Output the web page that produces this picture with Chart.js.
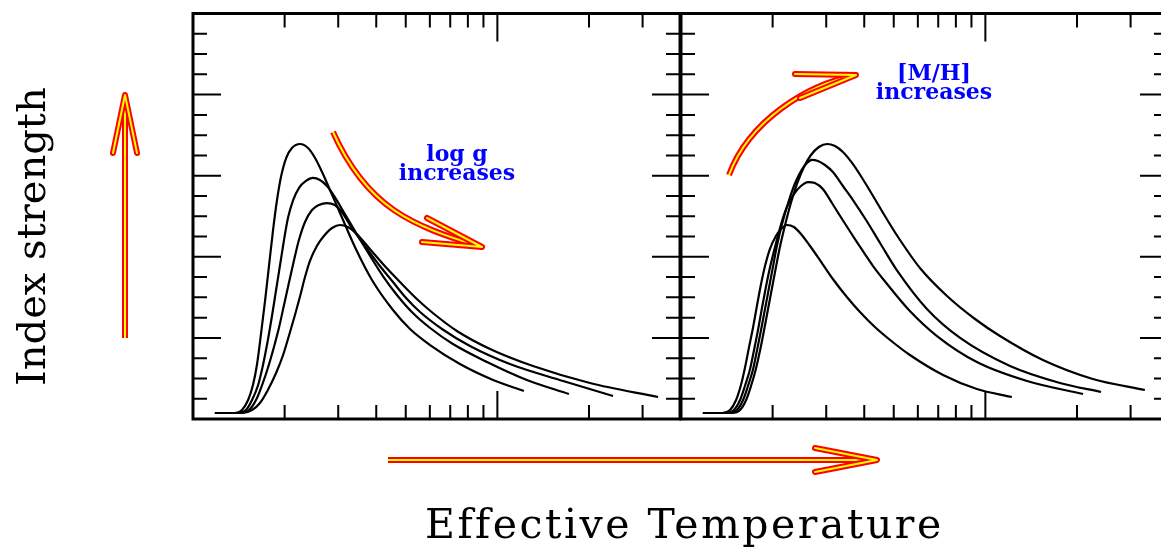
<!DOCTYPE html>
<html><head><meta charset="utf-8">
<script src="https://cdn.jsdelivr.net/npm/chart.js@4/dist/chart.umd.min.js"></script>
<style>
html,body{margin:0;padding:0;background:#fff;overflow:hidden;width:1161px;height:547px}
canvas{position:absolute;left:0;top:0}
</style></head>
<body>
<canvas id="c1" width="1170" height="547"></canvas>
<canvas id="c2" width="1170" height="547"></canvas>
<script>
// ---- Data: log10(Teff) and index strength (arbitrary units) ----
// Left panel: log g sequence
const leftA_logT = [3.072,3.138,3.161,3.181,3.197,3.210,3.223,3.237,3.250,3.263,3.276,3.289,3.306,3.325,3.352,3.378,3.401,3.424,3.450,3.483,3.532,3.588,3.657,3.713,3.779,3.877,3.986,4.087];
const leftA_Y    = [0.074,0.074,0.111,0.234,0.419,0.666,1.036,1.467,1.899,2.330,2.700,2.984,3.218,3.341,3.391,3.341,3.218,3.046,2.824,2.540,2.121,1.714,1.344,1.110,0.912,0.678,0.481,0.345];
const leftB_logT = [3.072,3.148,3.174,3.194,3.214,3.230,3.246,3.260,3.273,3.286,3.299,3.312,3.329,3.348,3.371,3.394,3.417,3.440,3.466,3.499,3.542,3.588,3.624,3.670,3.719,3.779,3.854,3.966,4.097,4.235];
const leftB_Y    = [0.074,0.074,0.111,0.234,0.419,0.666,0.974,1.282,1.591,1.899,2.207,2.478,2.700,2.848,2.935,2.972,2.947,2.873,2.737,2.528,2.256,1.973,1.763,1.529,1.319,1.122,0.925,0.703,0.481,0.308];
const leftC_logT = [3.072,3.154,3.184,3.207,3.227,3.246,3.266,3.283,3.299,3.315,3.332,3.348,3.368,3.391,3.414,3.440,3.466,3.489,3.522,3.572,3.614,3.657,3.700,3.746,3.818,3.910,4.041,4.216,4.380];
const leftC_Y    = [0.074,0.074,0.111,0.234,0.419,0.629,0.888,1.134,1.406,1.677,1.960,2.207,2.429,2.577,2.639,2.663,2.639,2.552,2.355,2.096,1.886,1.689,1.492,1.319,1.110,0.900,0.678,0.469,0.284];
const leftD_logT = [3.072,3.161,3.194,3.220,3.246,3.273,3.296,3.315,3.335,3.352,3.368,3.384,3.407,3.430,3.457,3.483,3.509,3.535,3.581,3.624,3.680,3.739,3.788,3.867,3.976,4.117,4.304,4.528];
const leftD_Y    = [0.074,0.074,0.111,0.197,0.358,0.567,0.789,1.023,1.282,1.517,1.751,1.948,2.133,2.256,2.355,2.392,2.367,2.293,2.096,1.911,1.689,1.467,1.307,1.085,0.863,0.653,0.444,0.271];
// Right panel: [M/H] sequence
const right1_logT = [3.072,3.135,3.161,3.181,3.197,3.210,3.223,3.237,3.250,3.263,3.276,3.292,3.312,3.329,3.348,3.371,3.394,3.424,3.463,3.499,3.545,3.588,3.637,3.687,3.752,3.861,3.972,4.087];
const right1_Y    = [0.074,0.074,0.111,0.234,0.419,0.629,0.875,1.134,1.406,1.665,1.886,2.096,2.256,2.343,2.392,2.367,2.281,2.133,1.923,1.726,1.504,1.319,1.134,0.974,0.789,0.543,0.370,0.271];
const right2_logT = [3.072,3.148,3.174,3.194,3.210,3.227,3.240,3.253,3.266,3.279,3.292,3.309,3.329,3.348,3.371,3.394,3.417,3.440,3.466,3.496,3.529,3.578,3.631,3.677,3.752,3.841,3.972,4.137,4.321];
const right2_Y    = [0.074,0.074,0.111,0.234,0.407,0.617,0.851,1.097,1.369,1.628,1.862,2.121,2.404,2.614,2.774,2.873,2.922,2.910,2.836,2.663,2.466,2.182,1.886,1.665,1.332,1.023,0.703,0.469,0.308];
const right3_logT = [3.072,3.158,3.184,3.204,3.220,3.237,3.250,3.263,3.276,3.289,3.302,3.315,3.332,3.352,3.375,3.398,3.414,3.430,3.450,3.473,3.499,3.532,3.565,3.608,3.654,3.713,3.808,3.917,4.081,4.245,4.380];
const right3_Y    = [0.074,0.074,0.111,0.234,0.407,0.617,0.851,1.097,1.356,1.615,1.874,2.133,2.404,2.663,2.910,3.083,3.157,3.194,3.181,3.132,3.046,2.873,2.700,2.454,2.170,1.813,1.356,0.999,0.653,0.444,0.333];
const right4_logT = [3.072,3.168,3.194,3.214,3.230,3.246,3.260,3.273,3.286,3.299,3.312,3.325,3.342,3.361,3.381,3.404,3.427,3.453,3.480,3.506,3.532,3.562,3.595,3.631,3.670,3.713,3.785,3.874,3.966,4.048,4.189,4.353,4.524];
const right4_Y    = [0.074,0.074,0.111,0.234,0.407,0.617,0.851,1.097,1.356,1.615,1.874,2.121,2.392,2.663,2.898,3.107,3.255,3.354,3.391,3.366,3.292,3.157,2.972,2.750,2.503,2.244,1.862,1.517,1.233,1.023,0.727,0.493,0.358];

// ---- Axis ticks (Teff in K, index strength) ----
const xMin = 1000, xMax = 39810.7;
const xMajorTicks = [10000];
const xMinorTicks = [2000,3000,4000,5000,6000,7000,8000,9000,20000,30000];
const yMin = 0, yMax = 5;
const yMajorTicks = [1,2,3,4];
const yMinorTicks = [0.25,0.5,0.75,1.25,1.5,1.75,2.25,2.5,2.75,3.25,3.5,3.75,4.25,4.5,4.75];

// ---- Labels ----
const yTitle = "Index strength";
const xTitle = "Effective Temperature";
const loggLabel = ["log g", "increases"];
const mhLabel = ["[M/H]", "increases"];

function series(LT, Y){ return LT.map((lt,i)=>({x:Math.pow(10,lt), y:Y[i]})); }
function ds(LT, Y){
  return {data: series(LT,Y), borderColor:'#000', borderWidth:2.2, pointRadius:0,
          fill:false, cubicInterpolationMode:'monotone'};
}

const framePlugin = {
  id:'frame',
  afterDatasetsDraw(chart){
    const {ctx, chartArea:a, scales:{x,y}} = chart;
    ctx.save();
    ctx.strokeStyle='#000';
    ctx.lineCap='butt';
    ctx.lineWidth=2;
    ctx.beginPath();
    const xt = (v,len)=>{const p=x.getPixelForValue(v); ctx.moveTo(p,a.top); ctx.lineTo(p,a.top+len); ctx.moveTo(p,a.bottom); ctx.lineTo(p,a.bottom-len);};
    const yt = (v,len)=>{const p=y.getPixelForValue(v); ctx.moveTo(a.left,p); ctx.lineTo(a.left+len,p); ctx.moveTo(a.right,p); ctx.lineTo(a.right-len,p);};
    xMinorTicks.forEach(v=>xt(v,14));
    xMajorTicks.forEach(v=>xt(v,28));
    yMinorTicks.forEach(v=>yt(v,14));
    yMajorTicks.forEach(v=>yt(v,28));
    ctx.stroke();
    ctx.lineWidth=3;
    ctx.strokeRect(a.left,a.top,a.right-a.left,a.bottom-a.top);
    ctx.restore();
  }
};

function fancy(ctx, path, cap){
  ctx.lineJoin='round';
  ctx.lineCap=cap;
  ctx.strokeStyle='#ff0000'; ctx.lineWidth=6; ctx.beginPath(); path(); ctx.stroke();
  ctx.strokeStyle='#ffff00'; ctx.lineWidth=2; ctx.beginPath(); path(); ctx.stroke();
}

const annotPlugin = {
  id:'annot',
  afterDraw(chart){
    const ctx = chart.ctx;
    ctx.save();
    // vertical arrow
    fancy(ctx, ()=>{ctx.moveTo(125,338); ctx.lineTo(125,97);}, 'butt');
    fancy(ctx, ()=>{ctx.moveTo(113,153); ctx.lineTo(125,95); ctx.lineTo(137,153);}, 'round');
    // horizontal arrow
    fancy(ctx, ()=>{ctx.moveTo(388,460); ctx.lineTo(875,460);}, 'butt');
    fancy(ctx, ()=>{ctx.moveTo(815,448); ctx.lineTo(877,460); ctx.lineTo(815,472);}, 'round');
    // log g arrow
    fancy(ctx, ()=>{ctx.moveTo(333,132); ctx.bezierCurveTo(367,208,412,226,482,247);}, 'butt');
    fancy(ctx, ()=>{ctx.moveTo(427,218); ctx.lineTo(482,247); ctx.lineTo(422,242);}, 'round');
    // [M/H] arrow
    fancy(ctx, ()=>{ctx.moveTo(729,175); ctx.bezierCurveTo(749,121,806,85,856,75);}, 'butt');
    fancy(ctx, ()=>{ctx.moveTo(795,74); ctx.lineTo(856,75); ctx.lineTo(800,98);}, 'round');

    // titles
    ctx.fillStyle='#000';
    ctx.textAlign='left';
    ctx.textBaseline='alphabetic';
    ctx.font='41px "DejaVu Serif"';
    ctx.letterSpacing='2.5px';
    ctx.fillText(xTitle, 425, 538);
    ctx.letterSpacing='0px';
    ctx.font='40px "DejaVu Serif"';
    ctx.save();
    ctx.translate(45, 386);
    ctx.rotate(-Math.PI/2);
    ctx.fillText(yTitle, 0, 0);
    ctx.restore();

    ctx.textAlign='center';
    ctx.fillStyle='#0000ff';
    ctx.font='bold 22px "DejaVu Serif"';
    ctx.fillText(loggLabel[0], 457, 161);
    ctx.fillText(loggLabel[1], 457, 180);
    ctx.fillText(mhLabel[0], 934, 80);
    ctx.fillText(mhLabel[1], 934, 99);
    ctx.restore();
  }
};

function makeOptions(pad){
  return {
    responsive:false, animation:false, events:[],
    layout:{padding:pad},
    plugins:{legend:{display:false}, tooltip:{enabled:false}, title:{display:false}},
    scales:{
      x:{type:'logarithmic', min:xMin, max:xMax, display:false},
      y:{type:'linear', min:yMin, max:yMax, display:false}
    }
  };
}

new Chart(document.getElementById('c1'), {
  type:'line',
  data:{datasets:[ds(leftA_logT,leftA_Y), ds(leftB_logT,leftB_Y), ds(leftC_logT,leftC_Y), ds(leftD_logT,leftD_Y)]},
  options: makeOptions({left:193, right:490, top:13.5, bottom:128}),
  plugins:[framePlugin, annotPlugin]
});
new Chart(document.getElementById('c2'), {
  type:'line',
  data:{datasets:[ds(right1_logT,right1_Y), ds(right2_logT,right2_Y), ds(right3_logT,right3_Y), ds(right4_logT,right4_Y)]},
  options: makeOptions({left:681, right:2, top:13.5, bottom:128}),
  plugins:[framePlugin]
});
</script>
</body></html>
